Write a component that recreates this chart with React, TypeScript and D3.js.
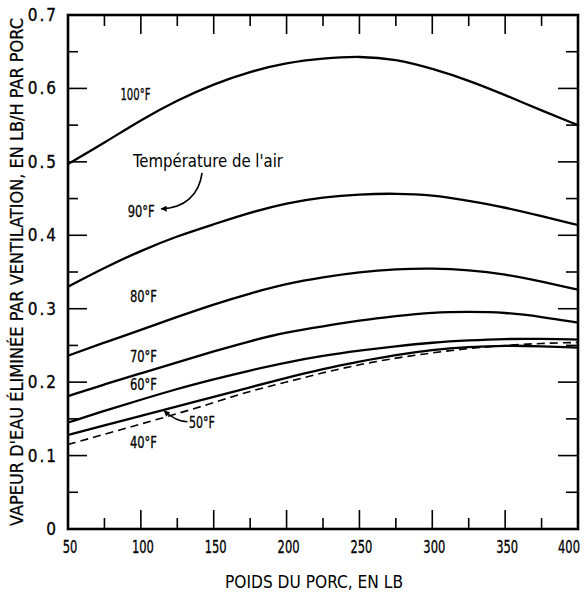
import React from "react";
import * as d3 from "d3";

// Pig weight (lb) at which each curve is sampled
const weights = [50, 75, 100, 125, 150, 175, 200, 225, 250, 275, 300, 325, 350, 375, 400];

// Water vapour removed by ventilation (lb/h per pig) for each air temperature
const t100F = [0.497, 0.526, 0.557, 0.584, 0.606, 0.623, 0.635, 0.641, 0.644, 0.640, 0.627, 0.611, 0.591, 0.570, 0.550];
const t90F = [0.330, 0.356, 0.379, 0.399, 0.415, 0.431, 0.444, 0.452, 0.456, 0.457, 0.455, 0.447, 0.438, 0.426, 0.414];
const t80F = [0.236, 0.254, 0.271, 0.289, 0.306, 0.321, 0.334, 0.343, 0.350, 0.354, 0.355, 0.353, 0.347, 0.337, 0.326];
const t70F = [0.181, 0.197, 0.212, 0.227, 0.242, 0.256, 0.268, 0.276, 0.284, 0.290, 0.295, 0.296, 0.295, 0.289, 0.281];
const t60F = [0.145, 0.161, 0.176, 0.191, 0.204, 0.216, 0.227, 0.236, 0.243, 0.249, 0.254, 0.257, 0.259, 0.259, 0.258];
const t50F = [0.128, 0.141, 0.154, 0.167, 0.180, 0.193, 0.206, 0.218, 0.228, 0.237, 0.244, 0.248, 0.250, 0.249, 0.247];
const t40F = [0.115, 0.129, 0.143, 0.157, 0.172, 0.188, 0.200, 0.213, 0.224, 0.233, 0.240, 0.246, 0.250, 0.253, 0.254];

// Axis ticks and labels
const xMajorTicks = [50, 100, 150, 200, 250, 300, 350, 400];
const xMinorTicks = [75, 125, 175, 225, 275, 325, 375];
const xTickLabels = ["50", "100", "150", "200", "250", "300", "350", "400"];
const yMajorTicks = [0, 0.1, 0.2, 0.3, 0.4, 0.5, 0.6, 0.7];
const yMinorTicks = [0.05, 0.15, 0.25, 0.35, 0.45, 0.55, 0.65];
const yTickLabels = ["0", "0.1", "0.2", "0.3", "0.4", "0.5", "0.6", "0.7"];

const xTitle = "POIDS DU PORC, EN LB";
const yTitle = "VAPEUR D'EAU ÉLIMINÉE PAR VENTILATION, EN LB/H PAR PORC";

const FONT = "'Liberation Sans Narrow', 'DejaVu Sans Condensed', 'Roboto', sans-serif";

export default function App() {
  const x = d3.scaleLinear().domain([50, 400]).range([68, 578]);
  const y = d3.scaleLinear().domain([0, 0.7]).range([529, 15]);

  const line = d3
    .line<number>()
    .x((_, i) => x(weights[i]))
    .y((d) => y(d))
    .curve(d3.curveBasis);

  const solid = [t100F, t90F, t80F, t70F, t60F, t50F];

  const x0 = x(50);
  const x1 = x(400);
  const yTop = y(0.7);
  const yBot = y(0);

  // text, anchor weight/value, drawn width
  const curveLabels = [
    { text: "100°F", w: 86, v: 0.584, len: 30 },
    { text: "90°F", w: 91, v: 0.425, len: 27 },
    { text: "80°F", w: 92.5, v: 0.309, len: 27 },
    { text: "70°F", w: 92.5, v: 0.2275, len: 27 },
    { text: "60°F", w: 92.5, v: 0.189, len: 27 },
    { text: "40°F", w: 92.5, v: 0.110, len: 27 },
    { text: "50°F", w: 133, v: 0.1375, len: 26 },
  ];

  return (
    <svg
      width={586}
      height={592}
      style={{ position: "absolute", left: 0, top: 0, background: "#fff" }}
      fontFamily={FONT}
    >
      <defs>
        <marker
          id="head"
          viewBox="0 0 10 10"
          refX="9"
          refY="5"
          markerWidth="8"
          markerHeight="6"
          orient="auto"
          markerUnits="userSpaceOnUse"
        >
          <path d="M0,0 L10,5 L0,10 Z" fill="#000" />
        </marker>
      </defs>

      {/* curves */}
      {solid.map((s, i) => (
        <path key={i} d={line(s) || ""} fill="none" stroke="#000" strokeWidth={2.3} />
      ))}
      <path
        d={line(t40F) || ""}
        fill="none"
        stroke="#000"
        strokeWidth={1.6}
        strokeDasharray="8,5"
      />

      {/* frame */}
      <rect
        x={x0}
        y={yTop}
        width={x1 - x0}
        height={yBot - yTop}
        fill="none"
        stroke="#000"
        strokeWidth={2.6}
      />

      {/* bottom & top ticks */}
      {xMajorTicks.map((t) => (
        <g key={"xM" + t}>
          <line x1={x(t)} x2={x(t)} y1={yBot} y2={yBot - 19} stroke="#000" strokeWidth={1.6} />
          <line x1={x(t)} x2={x(t)} y1={yTop} y2={yTop + 19} stroke="#000" strokeWidth={1.6} />
        </g>
      ))}
      {xMinorTicks.map((t) => (
        <g key={"xm" + t}>
          <line x1={x(t)} x2={x(t)} y1={yBot} y2={yBot - 11} stroke="#000" strokeWidth={1.6} />
          <line x1={x(t)} x2={x(t)} y1={yTop} y2={yTop + 11} stroke="#000" strokeWidth={1.6} />
        </g>
      ))}

      {/* left & right ticks */}
      {yMajorTicks.map((t) => (
        <g key={"yM" + t}>
          <line x1={x0} x2={x0 + 19} y1={y(t)} y2={y(t)} stroke="#000" strokeWidth={1.6} />
          <line x1={x1} x2={x1 - 20} y1={y(t)} y2={y(t)} stroke="#000" strokeWidth={1.6} />
        </g>
      ))}
      {yMinorTicks.map((t) => (
        <g key={"ym" + t}>
          <line x1={x0} x2={x0 + 10} y1={y(t)} y2={y(t)} stroke="#000" strokeWidth={1.6} />
          <line x1={x1} x2={x1 - 12} y1={y(t)} y2={y(t)} stroke="#000" strokeWidth={1.6} />
        </g>
      ))}

      {/* tick labels */}
      {xMajorTicks.map((t, i) => (
        <text
          key={"xl" + t}
          x={i === xMajorTicks.length - 1 ? x(t) - 9 : x(t) + 2}
          y={553}
          textAnchor="middle"
          fontSize={17}
          fill="#000"
          stroke="#000"
          strokeWidth={0.3}
          textLength={xTickLabels[i].length * 7.3}
          lengthAdjust="spacingAndGlyphs"
        >
          {xTickLabels[i]}
        </text>
      ))}
      {yMajorTicks.map((t, i) => (
        <text
          key={"yl" + t}
          x={58}
          y={y(t) + 6}
          textAnchor="end"
          fontSize={17}
          letterSpacing={2}
          fill="#000"
          stroke="#000"
          strokeWidth={0.3}
        >
          {yTickLabels[i]}
        </text>
      ))}

      {/* axis titles */}
      <text
        x={314}
        y={588}
        textAnchor="middle"
        fontSize={18}
        fill="#000"
        textLength={178}
        lengthAdjust="spacingAndGlyphs"
      >
        {xTitle}
      </text>
      <text
        transform={`translate(23, ${(yTop + yBot) / 2}) rotate(-90)`}
        textAnchor="middle"
        fontSize={17.5}
        fill="#000"
        stroke="#000"
        strokeWidth={0.2}
        textLength={508}
        lengthAdjust="spacingAndGlyphs"
      >
        {yTitle}
      </text>

      {/* curve labels */}
      {curveLabels.map((l) => (
        <text
          key={l.text}
          x={x(l.w)}
          y={y(l.v)}
          fontSize={16}
          fill="#000"
          stroke="#000"
          strokeWidth={0.3}
          textLength={l.len}
          lengthAdjust="spacingAndGlyphs"
        >
          {l.text}
        </text>
      ))}
      <text
        x={x(94.6)}
        y={y(0.493)}
        fontSize={17}
        fill="#000"
        textLength={150}
        lengthAdjust="spacingAndGlyphs"
      >
        Température de l'air
      </text>

      {/* annotation arrows */}
      <path
        d={`M${x(142)},${y(0.485)} C${x(140)},${y(0.455)} ${x(130)},${y(0.437)} ${x(114)},${y(0.436)}`}
        fill="none"
        stroke="#000"
        strokeWidth={1.6}
        markerEnd="url(#head)"
      />
      <path
        d={`M${x(132)},${y(0.146)} C${x(126)},${y(0.146)} ${x(121)},${y(0.152)} ${x(116)},${y(0.161)}`}
        fill="none"
        stroke="#000"
        strokeWidth={1.6}
        markerEnd="url(#head)"
      />
    </svg>
  );
}
